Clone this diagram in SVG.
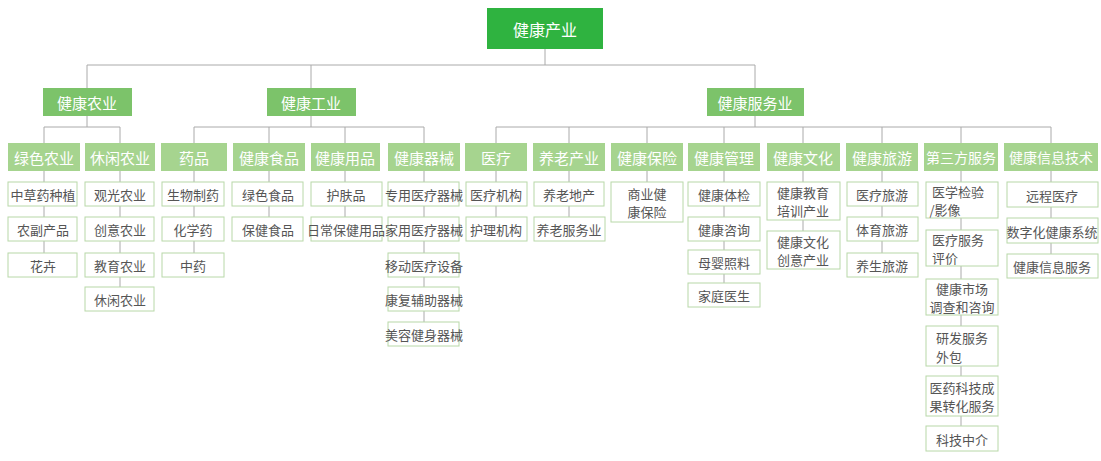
<svg xmlns="http://www.w3.org/2000/svg" width="1101" height="461" viewBox="0 0 1101 461">
<style>
text{font-family:"Noto Sans CJK SC","Liberation Sans",sans-serif;text-anchor:middle;dominant-baseline:central}
.r{fill:#2fb340}.l1{fill:#7cc36a}.l2{fill:#a6d48f}
.w{fill:#fff}.t1{font-size:15px}.t2{font-size:15px}
.lf rect{fill:#fff;stroke:#b8d8a8;stroke-width:1}
.lf text{fill:#555;font-size:13px}
#conn path{fill:none;stroke:#aaa;stroke-width:1}
</style>
<rect width="1101" height="461" fill="#fff"/>
<g id="conn">
<path d="M545 49V65M87 65H755M87 65V88M311 65V88M755 65V88"/>
<path d="M87 116V127M44 127H120M44 127V143M120 127V143"/>
<path d="M311 116V127M194 127H424M194 127V143M269 127V143M345 127V143M424 127V143"/>
<path d="M755 116V127M496 127H1051M496 127V143M569 127V143M647 127V143M724 127V143M803 127V143M882 127V143M961 127V143M1051 127V143"/>
<path d="M44 171V253M120 171V287M194 171V253M269 171V217M345 171V217M424 171V322"/>
<path d="M496 171V217M569 171V217M647 171V182M724 171V283M803 171V231M882 171V253M961 171V426M1051 171V254"/>
</g>
<g id="root"><rect class="r" x="487" y="8" width="116" height="41"/><text class="w" x="545" y="29" font-size="16">健康产业</text></g>
<g id="n-agri"><rect class="l1" x="43" y="88" width="89" height="28"/><text class="w t1" x="87" y="102">健康农业</text></g>
<g id="n-ind"><rect class="l1" x="267" y="88" width="89" height="28"/><text class="w t1" x="311" y="102">健康工业</text></g>
<g id="n-svc"><rect class="l1" x="707" y="88" width="97" height="28"/><text class="w t1" x="755" y="102">健康服务业</text></g>
<g id="l2">
<g id="c1"><rect class="l2" x="8" y="143" width="72" height="28"/><text class="w t2" x="44" y="157">绿色农业</text></g>
<g id="c2"><rect class="l2" x="85" y="143" width="70" height="28"/><text class="w t2" x="120" y="157">休闲农业</text></g>
<g id="c3"><rect class="l2" x="161" y="143" width="66" height="28"/><text class="w t2" x="194" y="157">药品</text></g>
<g id="c4"><rect class="l2" x="233" y="143" width="72" height="28"/><text class="w t2" x="269" y="157">健康食品</text></g>
<g id="c5"><rect class="l2" x="311" y="143" width="69" height="28"/><text class="w t2" x="345" y="157">健康用品</text></g>
<g id="c6"><rect class="l2" x="388" y="143" width="72" height="28"/><text class="w t2" x="424" y="157">健康器械</text></g>
<g id="c7"><rect class="l2" x="465" y="143" width="62" height="28"/><text class="w t2" x="496" y="157">医疗</text></g>
<g id="c8"><rect class="l2" x="533" y="143" width="72" height="28"/><text class="w t2" x="569" y="157">养老产业</text></g>
<g id="c9"><rect class="l2" x="611" y="143" width="72" height="28"/><text class="w t2" x="647" y="157">健康保险</text></g>
<g id="c10"><rect class="l2" x="688" y="143" width="72" height="28"/><text class="w t2" x="724" y="157">健康管理</text></g>
<g id="c11"><rect class="l2" x="767" y="143" width="73" height="28"/><text class="w t2" x="803" y="157">健康文化</text></g>
<g id="c12"><rect class="l2" x="846" y="143" width="72" height="28"/><text class="w t2" x="882" y="157">健康旅游</text></g>
<g id="c13"><rect class="l2" x="924" y="143" width="74" height="28"/><text class="w" x="961" y="157" font-size="14">第三方服务</text></g>
<g id="c14"><rect class="l2" x="1004" y="143" width="94" height="28"/><text class="w" x="1051" y="157" font-size="14">健康信息技术</text></g>
</g>
<g class="lf">
<g id="a1"><rect x="8" y="182" width="69" height="24"/><text x="43" y="194">中草药种植</text></g>
<g id="a2"><rect x="8" y="217" width="69" height="24"/><text x="43" y="229">农副产品</text></g>
<g id="a3"><rect x="8" y="253" width="69" height="24"/><text x="43" y="265">花卉</text></g>
<g id="b1"><rect x="85" y="182" width="69" height="24"/><text x="120" y="194">观光农业</text></g>
<g id="b2"><rect x="85" y="217" width="69" height="24"/><text x="120" y="229">创意农业</text></g>
<g id="b3"><rect x="85" y="253" width="69" height="24"/><text x="120" y="265">教育农业</text></g>
<g id="b4"><rect x="85" y="287" width="69" height="24"/><text x="120" y="299">休闲农业</text></g>
<g id="d1"><rect x="162" y="182" width="62" height="24"/><text x="193" y="194">生物制药</text></g>
<g id="d2"><rect x="162" y="217" width="62" height="24"/><text x="193" y="229">化学药</text></g>
<g id="d3"><rect x="162" y="253" width="62" height="24"/><text x="193" y="265">中药</text></g>
<g id="e1"><rect x="232" y="182" width="71" height="24"/><text x="268" y="194">绿色食品</text></g>
<g id="e2"><rect x="232" y="217" width="71" height="24"/><text x="268" y="229">保健食品</text></g>
<g id="f1"><rect x="311" y="182" width="71" height="24"/><text x="346" y="194">护肤品</text></g>
<g id="f2"><rect x="311" y="217" width="71" height="24"/><text x="346" y="229" font-size="12">日常保健用品</text></g>
<g id="g1"><rect x="388" y="182" width="71" height="24"/><text x="424" y="194" font-size="11.5">专用医疗器械</text></g>
<g id="g2"><rect x="388" y="217" width="71" height="24"/><text x="424" y="229" font-size="11.5">家用医疗器械</text></g>
<g id="g3"><rect x="388" y="253" width="71" height="24"/><text x="424" y="265" font-size="11.5">移动医疗设备</text></g>
<g id="g4"><rect x="388" y="287" width="71" height="24"/><text x="424" y="299" font-size="11.5">康复辅助器械</text></g>
<g id="g5"><rect x="388" y="322" width="71" height="24"/><text x="424" y="334" font-size="11.5">美容健身器械</text></g>
<g id="h1"><rect x="466" y="182" width="61" height="24"/><text x="496" y="194">医疗机构</text></g>
<g id="h2"><rect x="466" y="217" width="61" height="24"/><text x="496" y="229">护理机构</text></g>
<g id="i1"><rect x="534" y="182" width="70" height="24"/><text x="569" y="194">养老地产</text></g>
<g id="i2"><rect x="534" y="217" width="71" height="24"/><text x="569" y="229">养老服务业</text></g>
<g id="j1"><rect x="611" y="182" width="72" height="40"/><text x="647" y="193">商业健</text><text x="647" y="211">康保险</text></g>
<g id="k1"><rect x="688" y="182" width="72" height="24"/><text x="724" y="194">健康体检</text></g>
<g id="k2"><rect x="688" y="217" width="72" height="24"/><text x="724" y="229">健康咨询</text></g>
<g id="k3"><rect x="688" y="250" width="72" height="24"/><text x="724" y="262">母婴照料</text></g>
<g id="k4"><rect x="688" y="283" width="72" height="24"/><text x="724" y="295">家庭医生</text></g>
<g id="m1"><rect x="767" y="182" width="73" height="38"/><text x="803" y="192">健康教育</text><text x="803" y="210">培训产业</text></g>
<g id="m2"><rect x="767" y="231" width="73" height="38"/><text x="803" y="241">健康文化</text><text x="803" y="259">创意产业</text></g>
<g id="n1"><rect x="847" y="182" width="71" height="24"/><text x="882" y="194">医疗旅游</text></g>
<g id="n2"><rect x="847" y="217" width="71" height="24"/><text x="882" y="229">体育旅游</text></g>
<g id="n3"><rect x="847" y="253" width="71" height="24"/><text x="882" y="265">养生旅游</text></g>
<g id="p1"><rect x="926" y="182" width="72" height="36"/><text x="958" y="191">医学检验</text><text x="945" y="209">/影像</text></g>
<g id="p2"><rect x="926" y="230" width="72" height="36"/><text x="958" y="239">医疗服务</text><text x="945" y="257">评价</text></g>
<g id="p3"><rect x="926" y="279" width="72" height="36"/><text x="962" y="288" font-size="12">健康市场</text><text x="962" y="306" font-size="12">调查和咨询</text></g>
<g id="p4"><rect x="926" y="326" width="72" height="40"/><text x="962" y="337">研发服务</text><text x="949" y="356">外包</text></g>
<g id="p5"><rect x="926" y="376" width="72" height="40"/><text x="962" y="387" font-size="12.5">医药科技成</text><text x="962" y="405" font-size="12.5">果转化服务</text></g>
<g id="p6"><rect x="926" y="426" width="72" height="25"/><text x="962" y="439">科技中介</text></g>
<g id="q1"><rect x="1007" y="182" width="91" height="25"/><text x="1052" y="195">远程医疗</text></g>
<g id="q2"><rect x="1007" y="218" width="91" height="25"/><text x="1052" y="231" font-size="12">数字化健康系统</text></g>
<g id="q3"><rect x="1007" y="254" width="91" height="24"/><text x="1052" y="266" font-size="12">健康信息服务</text></g>
</g>
</svg>
